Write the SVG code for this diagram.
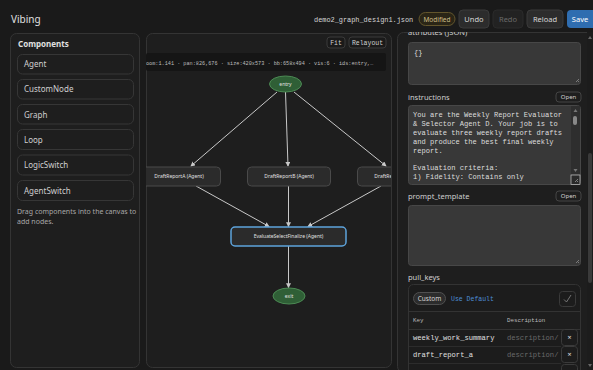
<svg xmlns="http://www.w3.org/2000/svg" width="593" height="370" viewBox="0 0 593 370">
<defs>
<style>
.ui{font-family:"Noto Sans","Liberation Sans",sans-serif;}
.mono{font-family:"Liberation Mono","DejaVu Sans Mono",monospace;}
.panel{fill:#1e1e1e;stroke:#343434;stroke-width:1;}
.cbtn{fill:#1e1e1e;stroke:#363636;stroke-width:1;}
.cbtxt{font-size:8px;fill:#cfcfcf;}
.btn{fill:#2c2c2c;stroke:#3a3a3a;stroke-width:1;}
.btxt{font-size:7.5px;fill:#d8d8d8;text-anchor:middle;}
.edge{stroke:#c8c8c8;stroke-width:1;fill:none;marker-end:url(#ah);}
.anode{fill:#2b2b2b;stroke:#4a4a4a;stroke-width:1;}
.ntxt{font-size:5px;fill:#e0e0e0;text-anchor:middle;}
.term{fill:#2f5f36;stroke:#4c8a54;stroke-width:1;}
.ta{fill:#383838;stroke:#474747;stroke-width:1;}
.lbl{font-size:7.5px;fill:#cfcfcf;}
.code{font-size:7.1px;fill:#dcdcdc;}
.open{fill:#1e1e1e;stroke:#444;stroke-width:1;}
.otxt{font-size:6px;fill:#d0d0d0;text-anchor:middle;}
</style>
<marker id="ah" viewBox="0 0 6 6" refX="5" refY="3" markerWidth="5" markerHeight="5" orient="auto">
<path d="M0,0 L6,3 L0,6 z" fill="#c8c8c8"/>
</marker>
<clipPath id="canvasClip"><rect x="146" y="33" width="245" height="334" rx="6"/></clipPath>
<clipPath id="rightClip"><rect x="397" y="32" width="190" height="338"/></clipPath>
<clipPath id="instrClip"><rect x="409" y="106" width="162" height="78"/></clipPath>
</defs>
<rect width="593" height="370" fill="#1a1a1a"/>
<!-- Top bar -->
<g id="topbar">
<text class="ui" x="11" y="23" font-size="10" fill="#e0e0e0">Vibing</text>
<text class="mono" x="314" y="22" font-size="6.9" fill="#d6d6d6">demo2_graph_design1.json</text>
<rect x="419" y="12.5" width="36" height="13" rx="6.5" fill="#2a2516" stroke="#62552c"/>
<text class="ui" x="437" y="21.5" font-size="6.5" fill="#d0bf8a" text-anchor="middle">Modified</text>
<rect class="btn" x="459" y="10" width="30" height="18" rx="4"/>
<text class="ui btxt" x="474" y="21.5">Undo</text>
<rect x="493" y="10" width="30" height="18" rx="4" fill="#222" stroke="#2a2a2a"/>
<text class="ui btxt" x="508" y="21.5" style="fill:#6a6a6a">Redo</text>
<rect class="btn" x="527" y="10" width="36" height="18" rx="4"/>
<text class="ui btxt" x="545" y="21.5">Reload</text>
<rect x="567" y="10" width="32" height="18" rx="4" fill="#2f6db0"/>
<text class="ui btxt" x="580" y="21.5" style="fill:#ffffff">Save</text>
</g>
<!-- Left panel -->
<g id="components">
<rect class="panel" x="10.5" y="33.5" width="129" height="334" rx="6"/>
<text class="ui" x="18" y="47" font-size="8" font-weight="bold" fill="#e0e0e0">Components</text>
<rect class="cbtn" x="17.5" y="54.5" width="116" height="19.5" rx="5"/>
<text class="ui cbtxt" x="24" y="67">Agent</text>
<rect class="cbtn" x="17.5" y="79.5" width="116" height="19.5" rx="5"/>
<text class="ui cbtxt" x="24" y="92">CustomNode</text>
<rect class="cbtn" x="17.5" y="104.5" width="116" height="19.5" rx="5"/>
<text class="ui cbtxt" x="24" y="117.5">Graph</text>
<rect class="cbtn" x="17.5" y="129.5" width="116" height="20" rx="5"/>
<text class="ui cbtxt" x="24" y="143">Loop</text>
<rect class="cbtn" x="17.5" y="155" width="116" height="20" rx="5"/>
<text class="ui cbtxt" x="24" y="168">LogicSwitch</text>
<rect class="cbtn" x="17.5" y="180.5" width="116" height="20" rx="5"/>
<text class="ui cbtxt" x="24" y="194">AgentSwitch</text>
<text class="ui" x="17" y="214" font-size="7" fill="#a8a8a8">Drag components into the canvas to</text>
<text class="ui" x="17" y="223.5" font-size="7" fill="#a8a8a8">add nodes.</text>
</g>
<!-- Canvas panel -->
<g id="canvas">
<rect class="panel" x="146.5" y="33.5" width="245" height="334" rx="6"/>
<rect class="btn" x="327" y="37" width="18" height="11" rx="3" style="fill:#1a1a1a"/>
<text class="mono" x="336" y="45" font-size="6.5" fill="#d0d0d0" text-anchor="middle">Fit</text>
<rect class="btn" x="349" y="37" width="37" height="11" rx="3" style="fill:#1a1a1a"/>
<text class="mono" x="367.5" y="45" font-size="6.5" fill="#d0d0d0" text-anchor="middle">Relayout</text>
<rect x="146" y="53" width="240" height="18" rx="2" fill="#151515"/>
<g clip-path="url(#canvasClip)">
<text class="mono" x="146" y="65" font-size="5.2" fill="#bdbdbd">oom:1.141 · pan:826,676 · size:420x573 · bb:658x494 · vis:6 · ids:entry,…</text>
</g>
</g>
<g id="edges" clip-path="url(#canvasClip)">
<line class="edge" x1="277" y1="92" x2="191" y2="166"/>
<line class="edge" x1="285.5" y1="92" x2="288" y2="166"/>
<line class="edge" x1="294" y1="92" x2="386" y2="166"/>
<line class="edge" x1="196" y1="186" x2="269" y2="226.5"/>
<line class="edge" x1="288.5" y1="186" x2="288.5" y2="226.5"/>
<line class="edge" x1="381" y1="186" x2="308" y2="226.5"/>
<line class="edge" x1="288.5" y1="246" x2="288.5" y2="287.5"/>
</g>
<g clip-path="url(#canvasClip)">
<g id="entry">
<ellipse class="term" cx="285.5" cy="84" rx="16" ry="8"/>
<text class="ui ntxt" x="285.5" y="86">entry</text>
</g>
<g id="draftA">
<rect class="anode" x="137.5" y="167" width="83" height="19" rx="4"/>
<text class="ui ntxt" x="179" y="178">DraftReportA (Agent)</text>
</g>
<g id="draftB">
<rect class="anode" x="247.5" y="167" width="83" height="19" rx="4"/>
<text class="ui ntxt" x="289" y="178">DraftReportB (Agent)</text>
</g>
<g id="draftC">
<rect class="anode" x="357.5" y="167" width="83" height="19" rx="4"/>
<text class="ui ntxt" x="399" y="178">DraftReportC (Agent)</text>
</g>
<g id="evaluate">
<rect class="anode" x="231" y="227" width="115" height="19" rx="4" style="stroke:#5ea4dc;stroke-width:1.5"/>
<text class="ui ntxt" x="288.5" y="238">EvaluateSelectFinalize (Agent)</text>
</g>
<g id="exit">
<ellipse class="term" cx="289" cy="296" rx="16" ry="8"/>
<text class="ui ntxt" x="289" y="298">exit</text>
</g>
</g>
<!-- Right panel -->
<g id="inspector">
<rect class="panel" x="397.5" y="32.5" width="200" height="340" rx="6"/>
<g clip-path="url(#rightClip)">
<text class="ui lbl" x="408" y="35">attributes (JSON)</text>
</g>
<rect class="ta" x="408.5" y="42.5" width="172" height="42" rx="3"/>
<text class="mono code" x="414" y="55">{}</text>
<path d="M576,82 L579,79 M578,82 L579,81" stroke="#aaa" stroke-width="0.6"/>
<text class="ui lbl" x="408" y="100">instructions</text>
<rect class="open" x="556" y="92" width="25" height="10" rx="3"/>
<text class="ui otxt" x="568.5" y="99.3">Open</text>
<rect class="ta" x="408.5" y="105.5" width="172" height="79" rx="3"/>
<g clip-path="url(#instrClip)">
<text class="mono code" x="413" y="116.5">You are the Weekly Report Evaluator</text>
<text class="mono code" x="413" y="125.5">&amp; Selector Agent D. Your job is to</text>
<text class="mono code" x="413" y="134.5">evaluate three weekly report drafts</text>
<text class="mono code" x="413" y="143.5">and produce the best final weekly</text>
<text class="mono code" x="413" y="152.5">report.</text>
<text class="mono code" x="413" y="170">Evaluation criteria:</text>
<text class="mono code" x="413" y="179">1) Fidelity: Contains only</text>
</g>
<rect x="571" y="106" width="9" height="68" fill="#2e2e2e"/>
<path d="M573.5,112 L575.5,109 L577.5,112 z" fill="#777"/>
<rect x="573" y="116" width="4" height="9" rx="2" fill="#888"/>
<path d="M573.5,169 L575.5,172 L577.5,169 z" fill="#777"/>
<rect x="571" y="175" width="9" height="9.5" fill="#2a2a2a" stroke="#c8c8c8" stroke-width="0.7"/>
<path d="M575,182 L578,179 M577,182 L578,181" stroke="#bbb" stroke-width="0.6"/>
<text class="ui lbl" x="408" y="199">prompt_template</text>
<rect class="open" x="556" y="191" width="25" height="10" rx="3"/>
<text class="ui otxt" x="568.5" y="198.3">Open</text>
<rect class="ta" x="408.5" y="205.5" width="172" height="60" rx="3"/>
<path d="M576,263 L579,260 M578,263 L579,262" stroke="#aaa" stroke-width="0.6"/>
<text class="ui lbl" x="408" y="280">pull_keys</text>
<rect x="408.5" y="284.5" width="172" height="95" rx="5" fill="#1c1c1c" stroke="#333"/>
<rect x="413.5" y="292.5" width="32" height="12" rx="6" fill="#2c2c2c" stroke="#505050"/>
<text class="ui" x="429.5" y="301" font-size="6.5" fill="#d6d6d6" text-anchor="middle">Custom</text>
<text class="mono" x="451" y="301" font-size="6.5" fill="#4d8ed6">Use Default</text>
<rect x="559.5" y="291.5" width="16" height="15" rx="3" fill="#1c1c1c" stroke="#3a3a3a"/>
<path d="M564,299.5 L566.5,302 L571,295" stroke="#8a8a8a" stroke-width="0.8" fill="none"/>
<line x1="409" y1="311.5" x2="580" y2="311.5" stroke="#333"/>
<rect x="409" y="312" width="171" height="17" fill="#1e1e1e"/>
<text class="mono" x="413" y="322" font-size="5.8" fill="#bdbdbd">Key</text>
<text class="mono" x="507" y="322" font-size="5.8" fill="#bdbdbd">Description</text>
<line x1="409" y1="329.5" x2="580" y2="329.5" stroke="#333"/>
<text class="mono" x="413" y="339.5" font-size="7.15" fill="#e0e0e0">weekly_work_summary</text>
<text class="mono" x="507" y="339.5" font-size="7.15" fill="#6a6a6a">description/</text>
<rect x="561.5" y="329.5" width="16" height="16" rx="3" fill="#1c1c1c" stroke="#3a3a3a"/>
<text class="ui" x="569.5" y="340" font-size="7" fill="#e0e0e0" text-anchor="middle">×</text>
<line x1="409" y1="346.5" x2="561" y2="346.5" stroke="#2c2c2c"/>
<text class="mono" x="413" y="356.5" font-size="7.15" fill="#e0e0e0">draft_report_a</text>
<text class="mono" x="507" y="356.5" font-size="7.15" fill="#6a6a6a">description/</text>
<rect x="561.5" y="346.5" width="16" height="16" rx="3" fill="#1c1c1c" stroke="#3a3a3a"/>
<text class="ui" x="569.5" y="357" font-size="7" fill="#e0e0e0" text-anchor="middle">×</text>
<line x1="409" y1="363.5" x2="561" y2="363.5" stroke="#2c2c2c"/>
<rect x="561.5" y="364.5" width="16" height="16" rx="3" fill="#1c1c1c" stroke="#3a3a3a"/>
<rect x="587" y="32" width="6" height="338" fill="#1c1c1c"/>
<path d="M588,39 L590,36 L592,39 z" fill="#666"/>
<rect x="588" y="153" width="4" height="130" rx="2" fill="#3a3a3a"/>
<path d="M588,364 L590,367 L592,364 z" fill="#666"/>
</g>
</svg>
